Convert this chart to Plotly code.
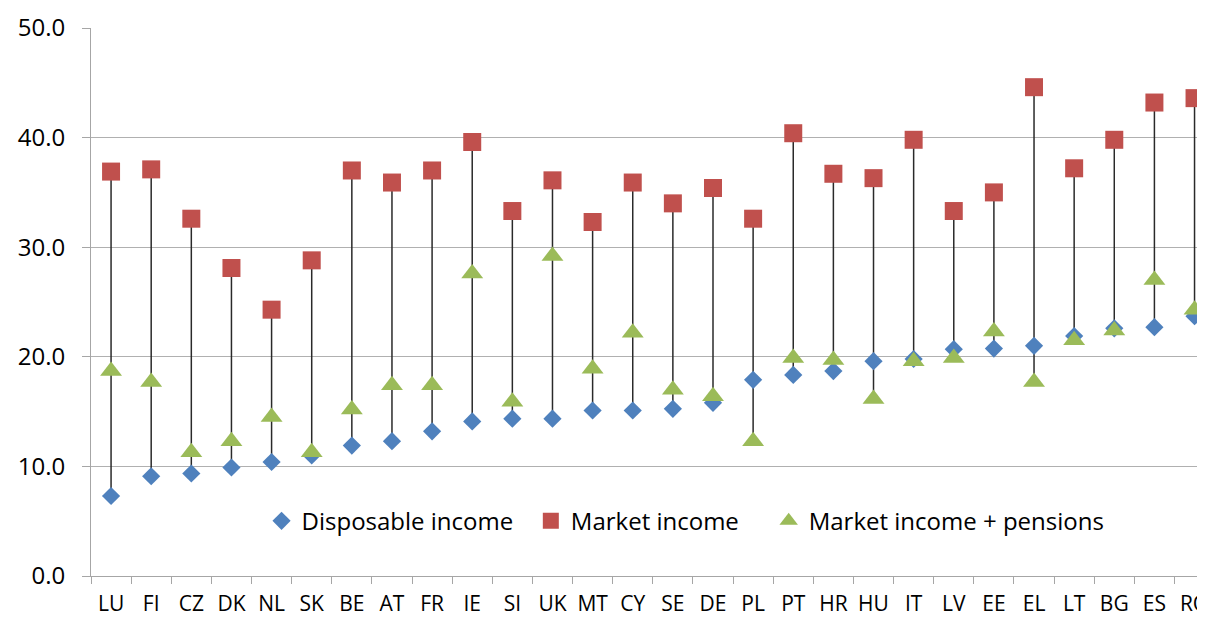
import plotly.graph_objects as go

countries = ["LU", "FI", "CZ", "DK", "NL", "SK", "BE", "AT", "FR", "IE", "SI", "UK", "MT", "CY",
             "SE", "DE", "PL", "PT", "HR", "HU", "IT", "LV", "EE", "EL", "LT", "BG", "ES", "RO"]
disposable = [7.3, 9.1, 9.35, 9.9, 10.4, 11.0, 11.9, 12.3, 13.2, 14.1, 14.35, 14.35, 15.1, 15.1,
              15.25, 15.8, 17.9, 18.35, 18.7, 19.6, 19.8, 20.7, 20.75, 21.0, 21.9, 22.6, 22.7, 23.7]
market = [36.9, 37.1, 32.6, 28.1, 24.3, 28.8, 37.0, 35.9, 37.0, 39.6, 33.3, 36.1, 32.3, 35.9,
          34.0, 35.4, 32.6, 40.4, 36.7, 36.3, 39.8, 33.3, 35.0, 44.6, 37.2, 39.8, 43.2, 43.6]
market_pensions = [18.7, 17.7, 11.3, 12.3, 14.5, 11.3, 15.2, 17.4, 17.4, 27.6, 15.9, 29.2, 18.9, 22.2,
                   17.0, 16.4, 12.3, 19.9, 19.7, 16.15, 19.6, 19.9, 22.3, 17.7, 21.5, 22.4, 27.0, 24.3]
y_ticks = [0, 10, 20, 30, 40, 50]

FONT = "Open Sans"

# high-low lines built from the data
hl_x, hl_y = [], []
for c, a, b, d in zip(countries, disposable, market, market_pensions):
    hl_x += [c, c, None]
    hl_y += [min(a, b, d), max(a, b, d), None]

fig = go.Figure()
fig.add_trace(go.Scatter(x=hl_x, y=hl_y, mode="lines", line=dict(color="#2a2a2a", width=1.5),
                         showlegend=False, hoverinfo="skip"))
fig.add_trace(go.Scatter(x=countries, y=disposable, mode="markers", name="Disposable income",
                         legend="legend",
                         marker=dict(symbol="diamond", size=14, color="#4F81BD")))
fig.add_trace(go.Scatter(x=countries, y=market, mode="markers", name="Market income",
                         legend="legend2",
                         marker=dict(symbol="square", size=18, color="#C0504D")))
fig.add_trace(go.Scatter(x=countries, y=market_pensions, mode="markers", name="Market income + pensions",
                         legend="legend3",
                         marker=dict(symbol="triangle-up", size=19, color="#9BBB59")))

leg_common = dict(orientation="h", y=0.10, xanchor="left", yanchor="middle",
                  font=dict(size=24, family=FONT), bgcolor="rgba(0,0,0,0)", itemwidth=30)

fig.update_layout(
    width=1205, height=619,
    margin=dict(l=83, r=0, t=20, b=51),
    paper_bgcolor="white", plot_bgcolor="white",
    font=dict(family=FONT, color="#000000"),
    showlegend=True,
    legend=dict(x=0.152, **leg_common),
    legend2=dict(x=0.392, **leg_common),
    legend3=dict(x=0.604, **leg_common),
    xaxis=dict(type="category", categoryorder="array", categoryarray=countries,
               range=[-0.5, 27.46], showgrid=False, showline=True, linecolor="#A6A6A6", linewidth=1,
               ticks="outside", tickson="boundaries", ticklen=7, tickcolor="#A6A6A6",
               ticklabelstandoff=9,
               tickfont=dict(size=21, family=FONT), zeroline=False),
    yaxis=dict(range=[0, 50], tickvals=y_ticks, tickformat=".1f", showgrid=True,
               gridcolor="#B0B0B0", gridwidth=1, showline=True, linecolor="#A6A6A6",
               ticks="outside", ticklen=8, tickcolor="#A6A6A6", ticklabelstandoff=12,
               tickfont=dict(size=24, family=FONT), zeroline=False),
)

fig.write_html("out.html")
